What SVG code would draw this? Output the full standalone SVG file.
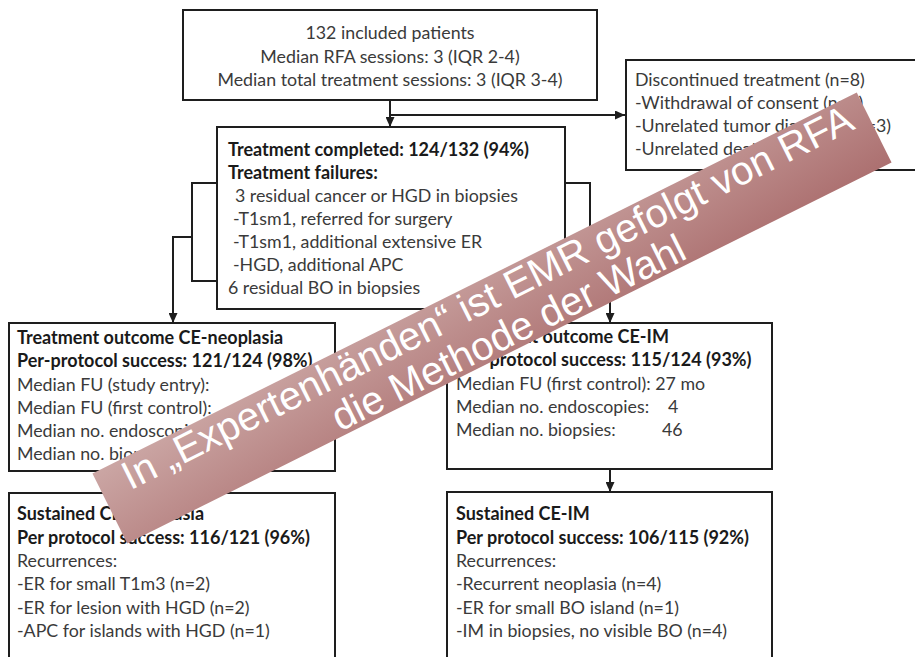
<svg xmlns="http://www.w3.org/2000/svg" width="915" height="657" viewBox="0 0 915 657">
<style>
.box{fill:#fff;stroke:#1e1e1e;stroke-width:2}
.t{font-family:Lato,"Liberation Sans",sans-serif;font-size:17.8px;fill:#3a3a3a}
.b{font-weight:700;font-size:18px;fill:#1a1a1a}
.m{text-anchor:middle}
.c{fill:none;stroke:#1e1e1e;stroke-width:2}
.ban{font-family:"Liberation Sans",Arial,sans-serif;font-size:40px;fill:#fff;text-anchor:middle}
</style>
<defs>
<marker id="ah" markerWidth="10" markerHeight="9" refX="10" refY="4.5" orient="auto" markerUnits="userSpaceOnUse">
<path d="M0,0 L10,4.5 L0,9 z" fill="#1e1e1e"/>
</marker>
<linearGradient id="bg" x1="0" y1="0" x2="1" y2="1">
<stop offset="0" stop-color="#cba6a4"/>
<stop offset="1" stop-color="#ac7070"/>
</linearGradient>
</defs>
<rect width="915" height="657" fill="#fff"/>
<g id="connectors">
<path class="c" d="M390,100 V127" marker-end="url(#ah)"/>
<path class="c" d="M390,115 H625" marker-end="url(#ah)"/>
<path class="c" d="M217,183 H192 V281 H217"/>
<path class="c" d="M192,237 H173 V323" marker-end="url(#ah)"/>
<path class="c" d="M565,183 H590 V281 H565"/>
<path class="c" d="M590,237 H610 V323" marker-end="url(#ah)"/>
<path class="c" d="M610,469 V492" marker-end="url(#ah)"/>
</g>
<g id="included">
<rect class="box" x="183" y="10" width="414" height="90"/>
<text class="t m" x="390" y="39">132 included patients</text>
<text class="t m" x="390" y="63">Median RFA sessions: 3 (IQR 2-4)</text>
<text class="t m" x="390" y="86">Median total treatment sessions: 3 (IQR 3-4)</text>
</g>
<g id="discontinued">
<rect class="box" x="626" y="60" width="300" height="110"/>
<text class="t" x="635" y="86">Discontinued treatment (n=8)</text>
<text class="t" x="635" y="109">-Withdrawal of consent (n=2)</text>
<text class="t" x="635" y="132">-Unrelated tumor diagnosis (n=3)</text>
<text class="t" x="635" y="155">-Unrelated death (n=3)</text>
</g>
<g id="completed">
<rect class="box" x="217" y="127" width="348" height="182"/>
<text class="t b" x="228" y="156">Treatment completed: 124/132 (94%)</text>
<text class="t b" x="228" y="179">Treatment failures:</text>
<text class="t" x="235" y="202">3 residual cancer or HGD in biopsies</text>
<text class="t" x="233" y="225">-T1sm1, referred for surgery</text>
<text class="t" x="233" y="248">-T1sm1, additional extensive ER</text>
<text class="t" x="233" y="271">-HGD, additional APC</text>
<text class="t" x="228" y="294">6 residual BO in biopsies</text>
</g>
<g id="outcome-neoplasia">
<rect class="box" x="9" y="323" width="326" height="148"/>
<text class="t b" x="17" y="344">Treatment outcome CE-neoplasia</text>
<text class="t b" x="17" y="367">Per-protocol success: 121/124 (98%)</text>
<text class="t" x="17" y="391">Median FU (study entry):</text>
<text class="t" x="17" y="414">Median FU (first control):</text>
<text class="t" x="17" y="437">Median no. endoscopies:</text>
<text class="t" x="17" y="460">Median no. biopsies:</text>
</g>
<g id="outcome-im">
<rect class="box" x="447" y="323" width="325" height="146"/>
<text class="t b" x="456" y="343">Treatment outcome CE-IM</text>
<text class="t b" x="456" y="366">Per-protocol success: 115/124 (93%)</text>
<text class="t" x="456" y="390">Median FU (first control): 27 mo</text>
<text class="t" x="456" y="413">Median no. endoscopies:</text>
<text class="t" x="668" y="413">4</text>
<text class="t" x="662" y="436">46</text>
<text class="t" x="456" y="436">Median no. biopsies:</text>
</g>
<g id="sustained-neoplasia">
<rect class="box" x="9" y="493" width="326" height="180"/>
<text class="t b" x="17" y="520">Sustained CE-neoplasia</text>
<text class="t b" x="17" y="544">Per protocol success: 116/121 (96%)</text>
<text class="t" x="17" y="567">Recurrences:</text>
<text class="t" x="17" y="590">-ER for small T1m3 (n=2)</text>
<text class="t" x="17" y="614">-ER for lesion with HGD (n=2)</text>
<text class="t" x="17" y="637">-APC for islands with HGD (n=1)</text>
</g>
<g id="sustained-im">
<rect class="box" x="447" y="492" width="325" height="180"/>
<text class="t b" x="456" y="520">Sustained CE-IM</text>
<text class="t b" x="456" y="544">Per protocol success: 106/115 (92%)</text>
<text class="t" x="456" y="567">Recurrences:</text>
<text class="t" x="456" y="590">-Recurrent neoplasia (n=4)</text>
<text class="t" x="456" y="614">-ER for small BO island (n=1)</text>
<text class="t" x="456" y="637">-IM in biopsies, no visible BO (n=4)</text>
</g>
<g id="banner" transform="translate(492,318) rotate(-26.5)">
<rect x="-427" y="-39" width="854" height="78" fill="url(#bg)"/>
<text class="ban" x="5" y="-7">In „Expertenhänden“ ist EMR gefolgt von RFA</text>
<text class="ban" x="8" y="34">die Methode der Wahl</text>
</g>
</svg>
